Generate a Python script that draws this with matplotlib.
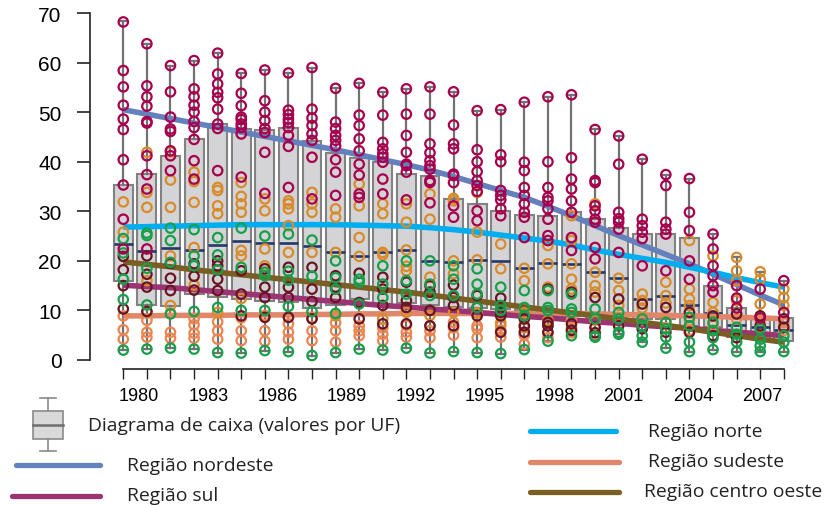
import matplotlib
matplotlib.use("Agg")
import matplotlib.pyplot as plt
from matplotlib.patches import Rectangle
import numpy as np

years = list(range(1980, 2009))
tick_labels = ["1980", "1983", "1986", "1989", "1992", "1995", "1998", "2001", "2004", "2007"]

# diagrama de caixa (valores por UF)
box_q1 = [16.0, 11.1, 10.8, 13.3, 12.8, 12.4, 12.0, 11.6, 10.4, 11.0, 12.4, 11.3, 11.4, 11.0, 10.6,
          10.4, 10.3, 10.1, 9.5, 8.9, 8.3, 8.8, 8.3, 8.3, 6.9, 6.6, 4.6, 4.3, 3.9]
box_med = [23.3, 21.9, 22.5, 22.1, 23.1, 24.1, 23.7, 23.7, 22.9, 21.7, 20.9, 21.7, 22.2, 20.0, 19.8,
           20.2, 19.9, 18.5, 19.5, 19.4, 17.7, 16.5, 12.4, 13.0, 11.1, 9.4, 7.1, 6.6, 6.1]
box_q3 = [35.3, 37.5, 41.2, 44.5, 47.6, 46.7, 46.4, 46.9, 44.1, 41.8, 40.8, 39.9, 37.5, 37.2, 32.5,
          31.5, 30.1, 29.3, 29.1, 29.8, 28.4, 26.6, 25.5, 25.4, 24.6, 15.0, 10.4, 8.3, 8.4]
box_max = [68.3, 63.8, 59.4, 60.4, 61.9, 57.8, 58.5, 57.9, 59.0, 54.8, 55.8, 54.0, 54.7, 55.1, 54.1,
           50.3, 50.5, 52.0, 53.1, 53.5, 46.5, 45.2, 40.5, 37.4, 36.6, 25.4, 20.7, 17.8, 16.0]
box_min = [2.0, 2.2, 2.4, 2.2, 1.5, 1.4, 1.9, 1.7, 0.9, 1.5, 2.2, 2.0, 2.4, 1.4, 1.7,
           1.5, 1.3, 2.1, 3.8, 4.9, 4.6, 5.2, 3.6, 2.4, 1.7, 2.1, 1.7, 1.7, 1.7]

# curvas suavizadas por região
linha_nordeste = [50.5, 49.6, 48.7, 47.8, 46.9, 46.0, 45.1, 44.2, 43.3, 42.4, 41.4, 40.4, 39.4, 38.3, 37.0,
                  35.6, 34.2, 32.8, 31.0, 29.1, 27.1, 25.1, 23.2, 21.3, 19.4, 17.3, 15.2, 13.1, 11.1]
linha_norte = [26.8, 26.9, 27.0, 27.1, 27.2, 27.3, 27.3, 27.3, 27.3, 27.3, 27.2, 27.1, 27.0, 26.7, 26.3,
               25.8, 25.2, 24.6, 24.0, 23.2, 22.2, 21.3, 20.5, 19.7, 18.7, 17.7, 16.6, 15.6, 14.7]
linha_sudeste = [8.9, 8.9, 9.0, 9.0, 9.0, 9.1, 9.1, 9.1, 9.2, 9.2, 9.3, 9.3, 9.4, 9.4, 9.4,
                 9.4, 9.4, 9.4, 9.4, 9.4, 9.3, 9.2, 9.1, 9.0, 8.9, 8.8, 8.6, 8.5, 8.3]
linha_sul = [15.1, 14.8, 14.6, 14.2, 13.8, 13.4, 13.0, 12.6, 12.2, 11.8, 11.4, 11.0, 10.7, 10.3, 10.0,
             9.6, 9.2, 8.8, 8.5, 8.1, 7.7, 7.4, 7.0, 6.7, 6.4, 6.0, 5.6, 5.3, 4.9]
linha_centro = [19.8, 19.3, 18.8, 18.2, 17.7, 17.2, 16.7, 16.2, 15.7, 15.2, 14.7, 14.2, 13.7, 13.1, 12.5,
                11.9, 11.3, 10.7, 10.1, 9.5, 8.9, 8.3, 7.6, 7.0, 6.3, 5.6, 4.9, 4.2, 3.6]

# valores por UF, agrupados por região (um item por ano)
pts_nordeste = [
    [68.2, 58.4, 55.1, 51.4, 48.6, 46.5, 40.4, 35.3, 28.4, 22.4],
    [63.8, 55.3, 53.1, 51.2, 48.1, 47.8, 41.2, 37.4, 34.5, 22.4],
    [59.4, 54.1, 49.0, 46.6, 46.1, 42.2, 41.2, 38.2],
    [60.4, 54.7, 53.1, 51.4, 50.0, 48.1, 46.9, 44.5, 40.2, 36.5],
    [61.9, 57.7, 55.7, 54.0, 52.9, 50.6, 47.6, 46.7, 38.2],
    [57.8, 53.8, 51.3, 49.0, 48.5, 47.6, 46.9, 45.6, 36.9],
    [58.5, 52.3, 50.0, 48.3, 46.7, 45.9, 41.9, 33.6],
    [57.9, 50.4, 49.5, 48.6, 47.9, 46.9, 45.3, 43.1, 34.8],
    [59.0, 50.6, 48.8, 47.3, 45.6, 44.3, 40.9, 32.5],
    [54.8, 48.0, 46.7, 45.3, 44.3, 43.2, 40.4, 37.9, 33.2],
    [55.8, 49.4, 47.3, 44.6, 42.2, 39.5, 37.3, 33.5, 32.8],
    [54.0, 49.4, 43.9, 42.6, 41.6, 40.9, 39.9, 36.5, 33.5],
    [54.7, 49.6, 45.3, 41.9, 39.5, 39.2, 37.9, 32.3],
    [55.1, 49.6, 43.6, 41.8, 40.2, 39.2, 38.5, 36.2, 35.8, 31.7],
    [54.1, 47.4, 43.6, 42.6, 37.5, 37.2, 35.8, 31.1, 28.8],
    [50.3, 42.4, 40.0, 38.0, 36.2, 35.2, 34.0, 30.1, 28.1],
    [50.5, 41.4, 40.0, 34.2, 33.2, 32.3, 30.5, 29.1],
    [52.0, 39.9, 38.2, 34.8, 33.2, 31.5, 29.8, 28.8, 24.7],
    [53.1, 40.0, 34.8, 32.8, 32.1, 30.5, 28.4, 25.1, 24.1],
    [53.5, 40.8, 36.5, 34.5, 32.1, 29.8, 24.7, 22.1],
    [46.5, 36.2, 35.8, 31.1, 30.1, 28.4, 27.8, 22.7, 20.4],
    [45.2, 39.5, 29.8, 28.5, 27.8, 26.4, 21.7],
    [40.5, 28.4, 27.1, 25.8, 24.5, 19.0],
    [37.4, 35.2, 27.8, 26.4, 25.4, 18.0],
    [36.6, 29.8, 26.1, 20.0, 16.3],
    [25.4, 22.4, 19.0, 17.0, 15.0, 13.7],
    [15.0, 12.5, 10.5],
    [14.3, 8.5],
    [16.0, 9.6],
]
pts_norte = [
    [31.9, 25.8], [41.9, 33.8, 30.8, 16.0, 9.6], [42.0, 36.3, 30.8, 21.0, 11.0],
    [37.9, 36.0, 31.8, 22.7, 15.1], [34.8, 34.2, 31.1, 29.5, 9.6],
    [35.8, 33.0, 31.5, 29.8, 22.1, 21.0, 12.4], [32.5, 30.1, 22.4, 19.0],
    [32.1, 31.5, 30.5, 27.1, 21.7], [33.8, 31.5, 29.8, 21.7], [30.5, 28.8, 21.7, 8.9],
    [35.5, 31.1, 24.7, 20.9], [31.5, 29.5, 21.7, 21.2, 8.3], [31.5, 27.8, 22.2, 18.9, 18.0, 9.6],
    [33.5, 28.4, 16.7, 9.0], [32.6, 32.1, 20.0, 17.4, 9.6], [33.8, 25.8, 20.2, 9.5],
    [23.4, 18.4, 7.5], [18.5, 16.0, 9.5], [23.1, 19.4, 14.7, 8.0], [29.1, 24.1, 19.4, 16.3, 14.3],
    [31.5, 17.7, 15.0, 13.7], [16.5, 14.0, 11.0], [13.3, 12.0, 10.5], [15.7, 13.0, 11.5],
    [24.1, 14.3, 12.3, 11.0], [21.0, 11.6, 9.6], [20.7, 18.0, 16.0, 12.0], [17.8, 16.3, 11.3],
    [14.3, 12.6, 11.0],
]
pts_sudeste = [
    [8.9, 6.1, 4.2], [8.0, 5.6, 4.6], [9.5, 5.6, 4.4], [8.3, 7.1, 5.4, 4.4], [7.7, 5.9, 4.2],
    [8.5, 5.9, 3.9], [9.0, 5.9, 3.8], [7.3, 5.6, 4.2], [8.5, 5.9, 3.9], [7.5, 5.9, 3.6],
    [6.9, 5.9, 4.9], [6.5, 5.2, 3.9], [7.0, 5.6, 4.6], [6.9, 5.9, 4.5], [7.6, 6.5, 5.0],
    [6.9, 6.3, 4.5], [6.9, 6.0, 4.6], [6.5, 5.0, 3.2], [7.0, 5.5, 4.5], [8.0, 6.5, 5.5],
    [8.0, 6.5, 5.0], [8.5, 7.0], [8.0, 6.5], [8.0, 6.5], [8.0, 6.0],
    [7.0, 6.0], [8.3, 6.5], [8.0, 6.5], [7.5, 6.0],
]
pts_sul = [
    [20.9, 18.2, 15.0, 10.3], [21.0, 17.3, 14.7, 9.8], [19.5, 16.5, 14.0], [19.4, 16.9, 14.1],
    [20.0, 19.0, 16.3, 14.0], [18.0, 13.3, 8.9], [18.4, 14.7, 12.6, 8.6], [18.7, 14.7, 12.6, 8.6],
    [18.7, 14.3, 11.8, 8.3], [17.0, 14.7, 12.6], [17.5, 11.6, 8.3], [16.7, 14.3, 11.0, 7.3],
    [15.7, 12.0, 10.6, 7.3], [15.0, 13.7, 10.0, 6.9], [15.1, 12.6, 11.0, 6.9], [13.0, 10.6, 8.9],
    [12.5, 9.6, 8.9, 5.6], [8.3, 6.9, 5.6], [14.3, 7.6, 6.9, 5.6], [13.7, 7.3, 6.0],
    [12.6, 6.6, 5.5], [12.3, 6.9], [11.3, 6.3], [10.6, 5.6], [9.6, 5.6],
    [8.9, 4.9], [9.3, 4.5], [8.9, 6.9], [8.3, 6.6],
]
pts_centro = [
    [24.5, 21.6, 16.3, 12.2, 2.0], [25.6, 25.1, 18.5, 11.1, 2.2], [26.6, 24.1, 19.7, 9.3, 2.4],
    [26.3, 21.0, 19.0, 9.8, 2.2], [24.7, 21.2, 18.2, 10.6, 1.5], [26.6, 18.7, 10.0, 1.4],
    [25.0, 17.7, 17.0, 10.0, 1.9], [25.4, 17.9, 16.1, 10.8, 1.7], [24.2, 16.9, 9.8, 0.9],
    [20.0, 16.6, 14.3, 9.4, 1.5], [16.3, 15.7, 11.3, 2.2], [19.0, 15.3, 12.6, 2.0],
    [20.0, 16.0, 13.3, 2.4], [20.0, 15.3, 13.0, 1.4], [19.0, 16.3, 13.0, 1.7],
    [18.4, 15.3, 13.3, 10.6, 1.5], [14.7, 11.0, 10.0, 1.3], [14.0, 10.6, 8.9, 2.1],
    [14.0, 10.6, 10.0, 3.8], [13.3, 10.3, 9.6, 4.9], [10.3, 8.3, 4.8, 4.6],
    [9.6, 8.3, 5.6, 5.2], [8.3, 6.9, 4.9, 3.6], [7.6, 6.3, 4.6, 2.4], [8.6, 6.9, 3.6, 1.7],
    [7.6, 5.9, 4.5, 2.1], [6.6, 5.2, 3.6, 1.7], [6.3, 4.2, 2.9, 1.7], [4.9, 3.6, 1.7],
]

cor = {
    "nordeste": "#6381bd", "norte": "#00aeef", "sudeste": "#e2866a",
    "sul": "#9c3473", "centro": "#7a5e22",
}
cor_pts = {
    "nordeste": "#a6004f", "norte": "#d98b2b", "sudeste": "#ec8550",
    "sul": "#6a1524", "centro": "#17a04b",
}

W, H = 826, 506
fig = plt.figure(figsize=(W / 100, H / 100), dpi=100)

# eixo: 1980 em x=123 px, 2008 em x=784 px; 0 em y=361 px, 70 em y=14 px
px_ano = (783.8 - 123.3) / 28
x0 = 1980 - (123.3 - 90) / px_ano
x1 = 1980 + (806.0 - 123.3) / px_ano
ax = fig.add_axes([90 / W, (H - 361) / H, (806.0 - 90) / W, 347 / H])
ax.set_xlim(x0, x1)
ax.set_ylim(0, 70)

stats = [dict(med=m, q1=a, q3=b, whislo=lo, whishi=hi, fliers=[])
         for m, a, b, lo, hi in zip(box_med, box_q1, box_q3, box_min, box_max)]
ax.bxp(stats, positions=years, widths=0.8, patch_artist=True, manage_ticks=False,
       showfliers=False, capwidths=0.28,
       boxprops=dict(facecolor="#d4d4d6", edgecolor="#828282", linewidth=1.5),
       whiskerprops=dict(color="#727272", linewidth=1.6),
       capprops=dict(color="#727272", linewidth=1.6),
       medianprops=dict(color="#24386b", linewidth=1.9, solid_capstyle="butt"))

linhas = [("nordeste", linha_nordeste), ("norte", linha_norte), ("sudeste", linha_sudeste),
          ("sul", linha_sul), ("centro", linha_centro)]
for nome, vals in linhas:
    ax.plot(years, vals, color=cor[nome], lw=4.0, solid_capstyle="butt", zorder=3, clip_on=False)

grupos = [("sudeste", pts_sudeste), ("norte", pts_norte), ("sul", pts_sul),
          ("centro", pts_centro), ("nordeste", pts_nordeste)]
for nome, por_ano in grupos:
    xs, ys = [], []
    for ano, vals in zip(years, por_ano):
        xs += [ano] * len(vals)
        ys += vals
    ax.scatter(xs, ys, s=46, facecolors="none", edgecolors=cor_pts[nome],
               linewidths=1.6, zorder=4, clip_on=False)

for s in ["top", "right"]:
    ax.spines[s].set_visible(False)
ax.spines["left"].set_bounds(0, 70)
ax.spines["bottom"].set_bounds(1980, 2008)
ax.spines["bottom"].set_position(("outward", 6.5))
for s in ["left", "bottom"]:
    ax.spines[s].set_linewidth(1.2)
    ax.spines[s].set_color("#222222")

ax.set_yticks(range(0, 71, 10))
ax.set_yticklabels([str(v) for v in range(0, 71, 10)], fontsize=15, family="Liberation Sans")
ax.tick_params(axis="y", length=9.5, width=1.2, pad=11, color="#222222")

ax.set_xticks(years)
ax.set_xticklabels([])
ax.tick_params(axis="x", which="major", length=7, width=1.0, color="#222222")
ax.set_xticks(np.linspace(1980.67, 2007.08, len(tick_labels)), minor=True)
ax.set_xticklabels(tick_labels, minor=True, fontsize=13, family="Liberation Sans")
ax.tick_params(axis="x", which="minor", length=0, pad=13)

# legenda desenhada em coordenadas de pixel
lg = fig.add_axes([0, 0, 1, 1])
lg.set_xlim(0, W)
lg.set_ylim(H, 0)
lg.axis("off")
lg.patch.set_alpha(0)

lg.plot([47.7, 47.7], [399.3, 412.3], color="#8a8a8a", lw=1.2)
lg.plot([47.7, 47.7], [440, 451.7], color="#8a8a8a", lw=1.2)
lg.plot([40, 55.5], [399.3, 399.3], color="#8a8a8a", lw=1.2)
lg.plot([40, 55.5], [451.7, 451.7], color="#8a8a8a", lw=1.2)
lg.add_patch(Rectangle((32.7, 412.3), 30.6, 27.7, facecolor="#d9d9d9", edgecolor="#8a8a8a", lw=1.2))
lg.plot([32.7, 63.3], [425.7, 425.7], color="#6e6e6e", lw=1.8)

fonte = "Open Sans"
lg.text(88, 426, "Diagrama de caixa (valores por UF)", fontsize=13.9, family=fonte,
        va="center", ha="left", color="#222222")

entradas = [
    ("nordeste", "Região nordeste", 16, 100, 466, 127),
    ("sul", "Região sul", 12, 100, 496.5, 127),
    ("norte", "Região norte", 530, 616, 432, 648),
    ("sudeste", "Região sudeste", 530, 619, 462.5, 648),
    ("centro", "Região centro oeste", 530, 619, 492.5, 644),
]
for nome, texto, xa, xb, y, xt in entradas:
    lg.plot([xa, xb], [y, y], color=cor[nome], lw=3.8, solid_capstyle="round")
    lg.text(xt, y, texto, fontsize=13.9, family=fonte, va="center", ha="left", color="#222222")

fig.savefig("out.png", dpi=100)
